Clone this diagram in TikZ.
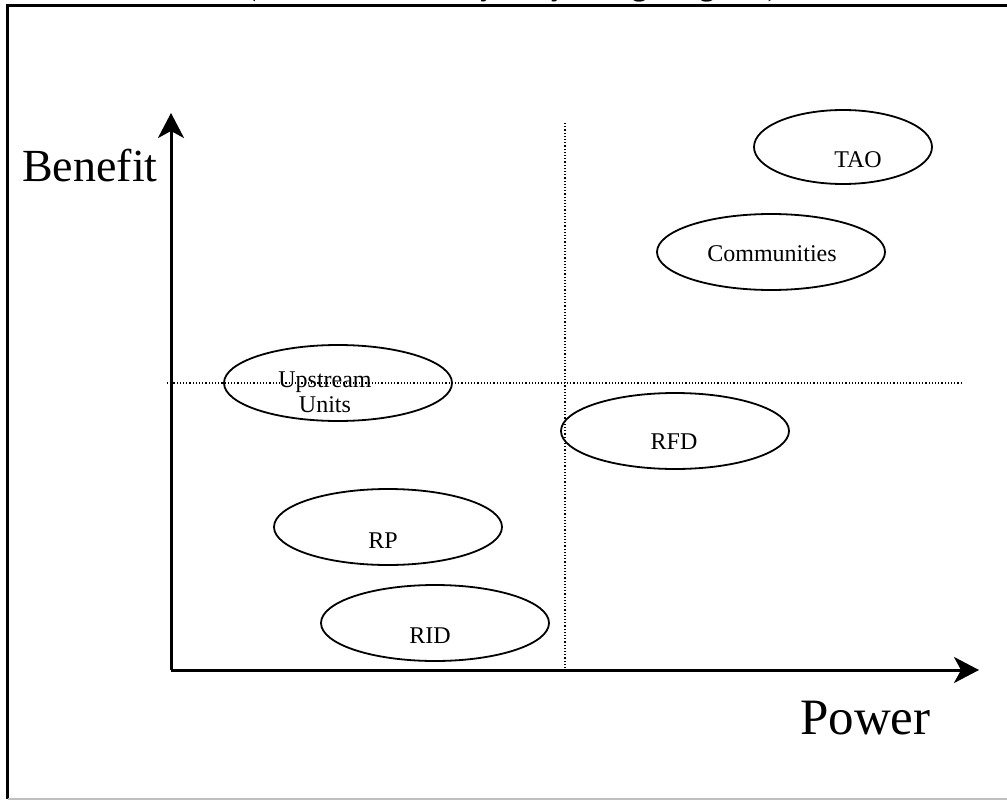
\documentclass[tikz,border=0pt]{standalone}
\usepackage{fontspec}
\setmainfont{Liberation Serif}
\usetikzlibrary{arrows.meta,shapes.geometric}
\begin{document}
\begin{tikzpicture}[x=1pt,y=-1pt,
  oval/.style={draw,ellipse,line width=1.8pt,minimum width=228pt,minimum height=76pt,inner sep=0pt},
  lbl/.style={font=\fontsize{24}{26}\selectfont,align=center,inner sep=0pt},
  axis/.style={line width=3pt,-{Stealth[length=25pt,width=26pt,inset=7pt]}},
  guide/.style={line width=1.2pt,dotted},
  axlabel/.style={inner sep=0pt,anchor=base west}]
\useasboundingbox (0,0) rectangle (1007,800);
\fill[white] (0,0) rectangle (1007,800);
% frame
\draw[line width=3pt] (1010,5.5) -- (7.5,5.5) -- (7.5,799);
\draw[line width=1.5pt,black!25] (7.5,799) -- (1010,799);
% clipped title (only its lowest parts show above the frame)
\node[font=\bfseries\fontsize{30}{32}\selectfont,anchor=base,inner sep=0pt] (title) at (512,-4) {(Stakeholder Analysis by Using Diagram)};
% axes
\coordinate (o) at (171,670);
\coordinate (ytip) at (171,113);
\coordinate (xtip) at (979,670);
\draw[axis] (o) -- (ytip);
\draw[axis] (o) -- (xtip);
% guides
\coordinate (vtop) at (565,123);
\coordinate (vbot) at (565,670);
\coordinate (hl) at (167,383);
\coordinate (hr) at (962,383);
\draw[guide] (vtop) -- (vbot);
\draw[guide] (hl) -- (hr);
% axis labels
\node[axlabel,font=\fontsize{46}{48}\selectfont] (benefit) at (22,181) {Benefit};
\node[axlabel,font=\fontsize{51}{53}\selectfont] (power) at (800,734) {Power};
% ellipses
\node[oval,minimum width=178pt,minimum height=74pt] (tao) at (843,147) {};
\node[lbl] at (858,160) {TAO};
\node[oval] (comm) at (771,252) {};
\node[lbl] at (772,254) {Communities};
\node[oval] (up) at (338,383) {};
\node[lbl] at (325,392) {Upstream\\[-1pt]Units};
\node[oval] (rfd) at (675,431) {};
\node[lbl] at (674,442) {RFD};
\node[oval] (rp) at (388,527) {};
\node[lbl] at (383,541) {RP};
\node[oval] (rid) at (435,623) {};
\node[lbl] at (430,636) {RID};
\end{tikzpicture}
\end{document}
